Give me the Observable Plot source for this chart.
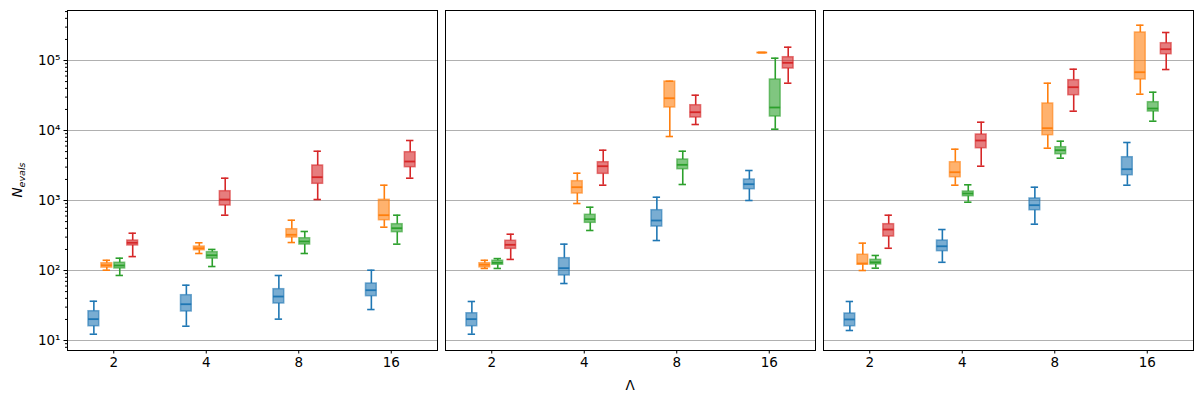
<!DOCTYPE html>
<html><head><meta charset="utf-8">
<script src="https://cdn.jsdelivr.net/npm/d3@7"></script>
<script src="https://cdn.jsdelivr.net/npm/@observablehq/plot@0.6"></script>
<style>
body{margin:0;background:#fff}
#chart svg{font-family:"DejaVu Sans",sans-serif;overflow:visible}
</style>
</head><body><div id="chart"></div>
<script>
// categories on the x axis (Λ) and four unnamed series
const categories = ["2", "4", "8", "16"];
const seriesNames = ["series 1", "series 2", "series 3", "series 4"];
const seriesColors = ["#1f77b4", "#ff7f0e", "#2ca02c", "#d62728"];
const panels = ["left", "middle", "right"];
const yTicks = [10, 100, 1000, 10000, 100000];

// each row: [lower whisker, Q1, median, Q3, upper whisker] for Λ = 2, 4, 8, 16
const leftBlue   = [[12.3,16.0,20.2,26.2,36.4],[16.0,26.0,33.0,44.4,61.7],[20.2,33.8,42.5,54.1,84.9],[27.7,43.0,52.3,65.2,101]];
const leftOrange = [[101,110,119,127,140],[175,195,208,220,249],[251,296,324,389,523],[416,523,617,1023,1655]];
const leftGreen  = [[85,107,118,129,150],[114,148,165,183,200],[175,235,260,289,361],[238,353,402,459,617]];
const leftRed    = [[158,228,249,268,341],[617,849,1033,1358,2083],[1033,1733,2153,3162,5058],[2083,2992,3606,4898,7197]];

const midBlue   = [[12.3,16.0,20.2,24.5,36.1],[65.2,85,108,150,238],[268,425,518,727,1114],[1000,1450,1710,1995,2683]];
const midOrange = [[107,111,121,127,140],[906,1259,1549,1888,2455],[8206,21320,28910,50000,50600],[130000,130000,130000,130000,130000]];
const midGreen  = [[107,121,129,138,148],[373,480,541,625,802],[1693,2800,3236,3852,5058],[10440,15850,21320,53540,107900]];
const midRed    = [[144,204,233,266,330],[1655,2405,3090,3524,5233],[12180,15340,18250,22970,31940],[47400,76860,92700,111400,154900]];

const rightBlue   = [[13.9,16.0,20.0,24.3,36.1],[131,189,222,268,385],[459,727,857,1069,1549],[1655,2298,2800,4153,6741]];
const rightOrange = [[100,121,126,168,246],[1655,2153,2536,3524,5408],[5585,8570,10790,24320,47400],[33010,53540,68030,251200,319400]];
const rightGreen  = [[108,122,131,142,164],[946,1152,1259,1344,1676],[4019,4584,5233,5771,7035],[13580,18680,20620,25370,35240]];
const rightRed    = [[208,306,385,459,617],[3090,5585,7197,8770,13140],[18880,31940,41550,52350,75100],[74300,123000,145000,176600,251200]];

const panelData = [
  [leftBlue, leftOrange, leftGreen, leftRed],
  [midBlue, midOrange, midGreen, midRed],
  [rightBlue, rightOrange, rightGreen, rightRed]
];

const step = 0.14, boxHalf = 0.058, capHalf = 0.04;
const rows = [];
panelData.forEach((ser, p) => ser.forEach((vals, s) => vals.forEach((v, c) => {
  rows.push({panel: panels[p], series: seriesNames[s], pos: c + 1 + (s - 1.5) * step - 0.005,
    lo: v[0], q1: v[1], med: v[2], q3: v[3], hi: v[4]});
})));

const minorTicks = [];
for (let e = 0; e <= 5; e++) for (let m = 2; m <= 9; m++) {
  const v = m * 10 ** e; if (v > 7.2 && v < 5.18e5) minorTicks.push(v);
}
const sup = {"0":"⁰","1":"¹","2":"²","3":"³","4":"⁴","5":"⁵","6":"⁶"};

const col = {stroke: "series", fx: "panel"};
const chart = Plot.plot({
  width: 1203, height: 403,
  marginLeft: 67, marginRight: 10, marginTop: 10, marginBottom: 53,
  style: {fontFamily: "DejaVu Sans", fontSize: "13.5px", background: "white"},
  fx: {domain: panels, axis: null, paddingInner: 8 / 378, paddingOuter: 0, round: false},
  x: {domain: [0.5, 4.5]},
  y: {type: "log", domain: [7.2, 5.18e5]},
  color: {type: "ordinal", domain: seriesNames, range: seriesColors},
  marks: [
    Plot.gridY(yTicks, {stroke: "#b0b0b0", strokeOpacity: 1, strokeWidth: 1}),
    Plot.ruleX(rows, {x: "pos", y1: "lo", y2: "q1", ...col, strokeWidth: 1.6}),
    Plot.ruleX(rows, {x: "pos", y1: "q3", y2: "hi", ...col, strokeWidth: 1.6}),
    Plot.ruleY(rows, {y: "lo", x1: d => d.pos - capHalf, x2: d => d.pos + capHalf, ...col, strokeWidth: 1.6}),
    Plot.ruleY(rows, {y: "hi", x1: d => d.pos - capHalf, x2: d => d.pos + capHalf, ...col, strokeWidth: 1.6}),
    Plot.rect(rows, {x1: d => d.pos - boxHalf, x2: d => d.pos + boxHalf, y1: "q1", y2: "q3",
      fill: "series", fillOpacity: 0.6, stroke: "series", strokeOpacity: 0.6, strokeWidth: 1.5, fx: "panel"}),
    Plot.ruleY(rows, {y: "med", x1: d => d.pos - boxHalf, x2: d => d.pos + boxHalf, ...col, strokeWidth: 1.8}),
    Plot.axisY({ticks: yTicks, tickSize: 3.5, tickPadding: 3.5, label: null,
      tickFormat: d => "10" + sup[String(Math.round(Math.log10(d)))], fontSize: 13.5}),
    Plot.axisY({ticks: minorTicks, tickSize: 2, fill: "none", label: null}),
    Plot.axisX({ticks: [1, 2, 3, 4], tickSize: 3.5, tickPadding: 3.5, label: null,
      tickFormat: i => categories[i - 1], fontSize: 13.5}),
    Plot.frame({stroke: "black", strokeWidth: 1})
  ]
});
document.getElementById("chart").appendChild(chart);

const svg = d3.select(chart);
svg.append("text").attr("x", 630).attr("y", 390).attr("text-anchor", "middle")
  .attr("font-size", "13.5px").attr("fill", "black").text("Λ");
const yl = svg.append("text").attr("transform", "translate(22,180) rotate(-90)")
  .attr("text-anchor", "middle").attr("font-size", "13.5px").attr("fill", "black").attr("font-style", "italic");
yl.append("tspan").text("N");
yl.append("tspan").attr("dy", 3).attr("font-size", "9.5px").text("evals");
</script>
</body></html>
